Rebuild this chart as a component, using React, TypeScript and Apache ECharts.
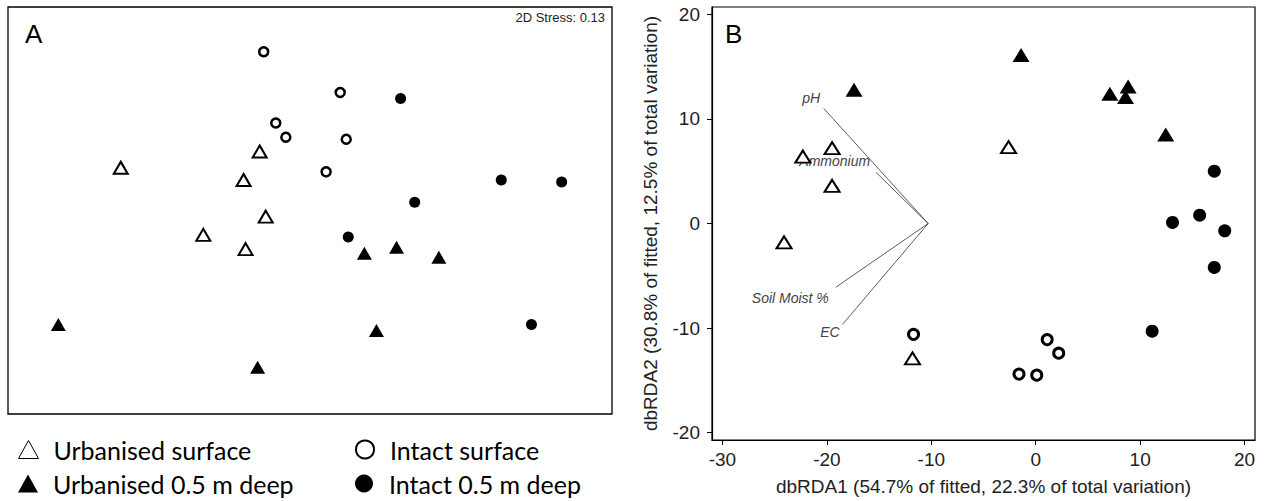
import React, { useEffect, useRef } from "react";
import * as echarts from "echarts";

// ---- Panel A: NMDS ordination (arbitrary units) ----
const nmdsUrbSurface = [[-0.94, 0.21], [-0.25, 0.29], [-0.33, 0.15], [-0.22, -0.03], [-0.53, -0.12], [-0.32, -0.19]];
const nmdsUrbDeep = [[-1.25, -0.56], [-0.26, -0.77], [0.33, -0.59], [0.27, -0.21], [0.43, -0.18], [0.64, -0.23]];
const nmdsIntSurface = [[-0.23, 0.78], [0.15, 0.58], [-0.17, 0.43], [-0.12, 0.36], [0.18, 0.35], [0.08, 0.19]];
const nmdsIntDeep = [[0.45, 0.55], [0.95, 0.15], [1.25, 0.14], [0.52, 0.04], [0.19, -0.13], [1.1, -0.56]];

// ---- Panel B: dbRDA ----
const rdaUrbSurface = [[-22.3, 6.4], [-19.5, 7.2], [-19.5, 3.6], [-24.1, -1.8], [-2.6, 7.3], [-11.8, -12.9]];
const rdaUrbDeep = [[-1.4, 16.1], [-17.4, 12.8], [7.1, 12.4], [8.85, 13.1], [8.6, 12.1], [12.45, 8.5]];
const rdaIntSurface = [[-11.7, -10.6], [1.1, -11.1], [2.2, -12.4], [-1.6, -14.4], [0.1, -14.5]];
const rdaIntDeep = [[17.1, 5.0], [15.7, 0.8], [13.1, 0.1], [18.1, -0.7], [17.1, -4.2], [11.15, -10.3]];

const vectorOrigin = [-10.3, 0];
const vectorNames = ["pH", "Ammonium", "Soil Moist %", "EC"];
const vectorEnds = [[-20.3, 11.0], [-15.3, 4.9], [-19.15, -6.1], [-18.5, -9.65]];
const vectorLabelPos = [[-21.5, 12.0], [-19.25, 6.0], [-23.5, -7.15], [-19.7, -10.4]];

const xTicks = [-30, -20, -10, 0, 10, 20];
const yTicks = [-20, -10, 0, 10, 20];

const groupNames = ["Urbanised surface", "Intact surface", "Urbanised 0.5 m deep", "Intact 0.5 m deep"];

const FONT = "'Liberation Sans', Arial, sans-serif";

const openStyle = (bw: number) => ({ color: "#fff", borderColor: "#000", borderWidth: bw, opacity: 1 });
const fillStyle = { color: "#000", borderColor: "#000", borderWidth: 0, opacity: 1 };

function buildOption() {
  const series: any[] = [
    // Panel A
    { name: groupNames[0], type: "scatter", xAxisIndex: 0, yAxisIndex: 0, symbol: "triangle", symbolSize: [14, 12], itemStyle: openStyle(2), data: nmdsUrbSurface },
    { name: groupNames[2], type: "scatter", xAxisIndex: 0, yAxisIndex: 0, symbol: "triangle", symbolSize: [15, 13], itemStyle: fillStyle, data: nmdsUrbDeep },
    { name: groupNames[1], type: "scatter", xAxisIndex: 0, yAxisIndex: 0, symbol: "circle", symbolSize: 9, itemStyle: openStyle(2.5), data: nmdsIntSurface },
    { name: groupNames[3], type: "scatter", xAxisIndex: 0, yAxisIndex: 0, symbol: "circle", symbolSize: 11, itemStyle: fillStyle, data: nmdsIntDeep },
  ];
  // Panel B vectors
  vectorNames.forEach((n, i) => {
    series.push({
      name: n + " vector",
      type: "line",
      xAxisIndex: 1,
      yAxisIndex: 1,
      symbol: "none",
      silent: true,
      lineStyle: { color: "#333", width: 0.8 },
      data: [vectorOrigin, vectorEnds[i]],
      z: 1,
    });
  });
  series.push({
    name: "vector labels",
    type: "scatter",
    xAxisIndex: 1,
    yAxisIndex: 1,
    symbolSize: 1,
    itemStyle: { color: "rgba(0,0,0,0)", opacity: 1 },
    silent: true,
    label: {
      show: true,
      position: "inside",
      formatter: "{b}",
      fontFamily: FONT,
      fontStyle: "italic",
      fontSize: 14,
      color: "#444",
    },
    data: vectorNames.map((n, i) => ({ name: n, value: vectorLabelPos[i] })),
    z: 1,
  });
  series.push(
    { name: groupNames[0], type: "scatter", xAxisIndex: 1, yAxisIndex: 1, symbol: "triangle", symbolSize: [15, 12], itemStyle: openStyle(2), data: rdaUrbSurface, z: 3 },
    { name: groupNames[2], type: "scatter", xAxisIndex: 1, yAxisIndex: 1, symbol: "triangle", symbolSize: [17, 14], itemStyle: fillStyle, data: rdaUrbDeep, z: 3 },
    { name: groupNames[1], type: "scatter", xAxisIndex: 1, yAxisIndex: 1, symbol: "circle", symbolSize: 10, itemStyle: openStyle(3), data: rdaIntSurface, z: 3 },
    { name: groupNames[3], type: "scatter", xAxisIndex: 1, yAxisIndex: 1, symbol: "circle", symbolSize: 13, itemStyle: fillStyle, data: rdaIntDeep, z: 3 }
  );

  const legendBase = {
    orient: "horizontal",
    itemWidth: 20,
    itemHeight: 18,
    selectedMode: false,
    textStyle: { fontFamily: "Lato, 'Open Sans', sans-serif", fontSize: 25, color: "#000", padding: [0, 0, 0, 10] },
  };
  const legendIcons: any[] = [
    { icon: "triangle", itemStyle: { color: "#fff", borderColor: "#000", borderWidth: 1, opacity: 1 } },
    { icon: "circle", itemStyle: { color: "#fff", borderColor: "#000", borderWidth: 2, opacity: 1 } },
    { icon: "triangle", itemStyle: { color: "#000", borderWidth: 0, opacity: 1 } },
    { icon: "circle", itemStyle: { color: "#000", borderWidth: 0, opacity: 1 } },
  ];
  const legendPos = [
    { left: 13, top: 432 },
    { left: 350, top: 432 },
    { left: 13, top: 466 },
    { left: 350, top: 466 },
  ];
  const legend = groupNames.map((n, i) => ({
    ...legendBase,
    ...legendPos[i],
    data: [{ name: n, ...legendIcons[i] }],
  }));

  return {
    animation: false,
    backgroundColor: "#fff",
    textStyle: { fontFamily: FONT },
    title: [
      { text: "A", left: 25, top: 21, padding: 0, textStyle: { fontFamily: FONT, fontSize: 26, fontWeight: "normal", color: "#000" } },
      { text: "B", left: 725, top: 21, padding: 0, textStyle: { fontFamily: FONT, fontSize: 26, fontWeight: "normal", color: "#000" } },
      { text: "2D Stress: 0.13", right: 660, top: 11, padding: 0, textStyle: { fontFamily: FONT, fontSize: 13, fontWeight: "normal", color: "#222" } },
    ],
    legend,
    grid: [
      { left: 8, top: 7, width: 604, height: 407, show: true, borderColor: "#000", borderWidth: 1.3, backgroundColor: "#fff" },
      { left: 712, top: 7, width: 543, height: 436, show: true, borderColor: "#000", borderWidth: 1.2, backgroundColor: "#fff" },
    ],
    xAxis: [
      { gridIndex: 0, type: "value", min: -1.5, max: 1.5, show: false },
      {
        gridIndex: 1,
        type: "value",
        min: -31,
        max: 21,
        name: "dbRDA1 (54.7% of fitted, 22.3% of total variation)",
        nameLocation: "middle",
        nameGap: 37,
        nameTextStyle: { fontFamily: FONT, fontSize: 19, color: "#222" },
        axisLine: { show: true, onZero: false, lineStyle: { color: "#000", width: 1.2 } },
        axisTick: { show: true, inside: false, length: 5, customValues: xTicks, lineStyle: { color: "#000" } },
        axisLabel: { customValues: xTicks, margin: 10, fontFamily: FONT, fontSize: 19, color: "#222" },
        splitLine: { show: false },
      },
    ],
    yAxis: [
      { gridIndex: 0, type: "value", min: -1, max: 1, show: false },
      {
        gridIndex: 1,
        type: "value",
        min: -20.7,
        max: 20.7,
        name: "dbRDA2 (30.8% of fitted, 12.5% of total variation)",
        nameLocation: "middle",
        nameGap: 52,
        nameTextStyle: { fontFamily: FONT, fontSize: 19, color: "#222" },
        axisLine: { show: true, onZero: false, lineStyle: { color: "#000", width: 1.2 } },
        axisTick: { show: true, inside: false, length: 5, customValues: yTicks, lineStyle: { color: "#000" } },
        axisLabel: { customValues: yTicks, margin: 12, fontFamily: FONT, fontSize: 19, color: "#222" },
        splitLine: { show: false },
      },
    ],
    series,
  };
}

export default function App() {
  const ref = useRef<HTMLDivElement>(null);
  useEffect(() => {
    if (!ref.current) return;
    const chart = echarts.init(ref.current, null, { renderer: "svg" });
    chart.setOption(buildOption() as any);
    return () => chart.dispose();
  }, []);
  return (
    <div
      ref={ref}
      style={{ position: "fixed", left: 0, top: 0, width: 1265, height: 501, background: "#fff" }}
    />
  );
}
